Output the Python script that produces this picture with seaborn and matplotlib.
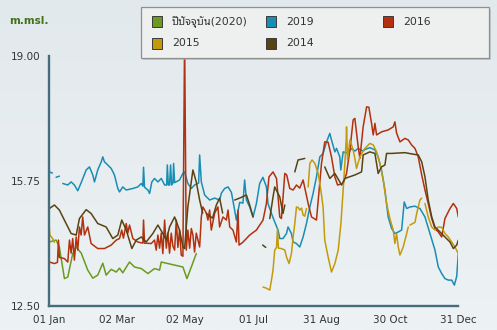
import numpy as np
import pandas as pd
import matplotlib
matplotlib.use("Agg")
import matplotlib.pyplot as plt
from matplotlib import font_manager
from matplotlib.patches import Rectangle
from matplotlib.colors import LinearSegmentedColormap
import seaborn as sns

nan = np.nan

# ---- data: (day of year, water level in m.msl.) ; nan marks a gap ----
series_names = ["ปีปัจจุบัน(2020)", "2019", "2016", "2015", "2014"]
series_colors = ["#6b9a1f", "#1a8db5", "#b3310f", "#c49a0a", "#5a4312"]

level_2020 = [
    (0.6, 14.17), (6.6, 14.22), (9.5, 14.04), (14, 13.22), (17, 13.26), (21.4, 13.87),
    (24.5, 14.04), (29, 13.88), (34.8, 13.44), (39.3, 13.23), (43.7, 13.31), (48.2, 13.62),
    (51.2, 13.31), (55.7, 13.46), (60.2, 13.39), (63.1, 13.49), (66, 13.37), (72, 13.65),
    (76.5, 13.52), (82.5, 13.48), (88.4, 13.35), (94.3, 13.48), (98.8, 13.44), (100.3, 13.65),
    (106.2, 13.61), (112.2, 13.57), (119.6, 13.52), (123.2, 13.22), (127.1, 13.52), (131.5, 13.87),
]

level_2019 = [
    (0.6, 15.99), (3.3, 15.96), (5, nan), (6.6, 15.85), (9.5, 15.88), (11, nan),
    (12.5, 15.69), (17, 15.65), (20, 15.73), (22.9, 15.65), (25.9, 15.50), (29.2, 15.73),
    (33.4, 16.04), (36.3, 16.12), (39.3, 15.91), (40.8, 15.73), (43.7, 16.04), (46.8, 16.25),
    (48.2, 16.38), (49.7, 16.25), (51.2, 16.21), (55.7, 16.08), (58.6, 15.91), (61.6, 15.56),
    (63.1, 15.47), (66, 15.60), (69.1, 15.52), (75, 15.56), (79.4, 15.60), (82.5, 15.69),
    (83.9, 15.62), (84.5, 16.11), (85.4, 15.59), (88.4, 15.52), (89.9, 15.43), (91.9, 15.73),
    (94.3, 15.82), (97.3, 15.73), (100.3, 15.82), (103.3, 15.65), (105.1, 15.65), (105.7, 16.17),
    (106.6, 15.65), (107.7, 15.65), (108.6, 16.17), (109.5, 15.65), (110.7, 15.70), (111.3, 16.21),
    (112.2, 15.71), (116.6, 15.78), (119.6, 15.95), (121.1, 15.99), (124, 15.69), (127.1, 15.56),
    (130, 15.65), (133.6, 15.70), (134.5, 16.43), (136, 15.73), (139, 15.39), (143.4, 15.26),
    (147.9, 15.31), (152.3, 15.26), (153.9, 15.44), (156.8, 15.56), (159.8, 15.60), (162.8, 15.46),
    (165.7, 15.00), (167.2, 14.74), (170.2, 15.20), (173.1, 15.18), (174.6, 15.78), (176.2, 15.26),
    (179.1, 15.08), (182.1, 14.82), (185.1, 15.17), (188, 15.69), (190.9, 15.85), (194, 15.60),
    (195.4, 15.17), (198.5, 14.91), (201.4, 14.69), (204.4, 14.48), (205.9, 14.26), (208.8, 14.26),
    (211.9, 14.39), (213.3, 14.56), (216.3, 14.39), (217.8, 14.17), (220.8, 14.13), (223.7, 14.04),
    (226.7, 14.30), (229.7, 14.65), (232.7, 15.08), (235.6, 15.43), (238.6, 15.86), (241.6, 16.38),
    (244.5, 16.47), (247.6, 16.77), (250.5, 16.99), (252, 16.82), (255, 16.51), (256.5, 16.60),
    (259.4, 16.38), (260.3, 16.04), (262.4, 16.51), (266.8, 16.47), (269.8, 16.60), (272.8, 16.53),
    (275.8, 16.60), (280.2, 16.53), (281.7, 16.57), (286.2, 16.62), (290.7, 16.56), (293.6, 16.38),
    (296.6, 16.04), (299.6, 15.52), (302.5, 14.82), (305.6, 14.52), (308.5, 14.39), (311.5, 14.43),
    (314.5, 14.48), (316.8, 15.21), (319, 15.04), (321.9, 15.08), (326.4, 15.10), (330.8, 15.04),
    (335.3, 14.82), (339.7, 14.39), (344.2, 13.96), (347.2, 13.52), (350.2, 13.35), (353.1, 13.22),
    (356.1, 13.18), (359.1, 13.18), (361.5, 13.05), (363.6, 13.28), (365, 13.87),
]

level_2016 = [
    (0.6, 13.65), (5.1, 13.61), (7.8, 13.64), (8.7, 14.22), (9.5, 13.77), (14, 13.74),
    (17, 13.65), (18.5, 14.22), (20, 13.88), (21.4, 14.26), (22.9, 13.70), (24.5, 14.30),
    (25.9, 13.96), (27.4, 14.56), (28.9, 14.35), (30.3, 14.82), (31.9, 14.35), (34.8, 14.56),
    (37.8, 14.13), (43.7, 14.00), (49.7, 14.00), (55.7, 14.09), (60.2, 14.22), (63.1, 14.26),
    (65.1, 14.48), (66.6, 14.27), (69.1, 14.65), (70.5, 14.40), (72, 14.61), (75, 14.26),
    (79.4, 14.17), (83.9, 14.14), (84.5, 14.74), (85.4, 14.14), (91.4, 14.13), (94.3, 14.22),
    (95.8, 13.96), (97.3, 14.35), (98.8, 14.01), (100.3, 14.40), (101.7, 13.87), (103.3, 14.74),
    (104.8, 14.01), (106.2, 14.40), (107.7, 13.88), (109.2, 14.40), (110.7, 14.06), (112.2, 13.96),
    (113.7, 14.74), (115.1, 14.03), (116.6, 14.48), (118.1, 13.83), (119.6, 13.80), (121.1, 19.50),
    (122.6, 13.96), (124, 14.48), (125.6, 14.01), (127.1, 14.52), (128.5, 14.35), (130, 13.91),
    (131.5, 14.40), (134.5, 14.04), (136, 14.82), (137.4, 15.08), (140.5, 14.92), (141.9, 14.74),
    (143.4, 15.00), (144.9, 14.48), (147.9, 14.92), (150.8, 15.08), (152.3, 14.56), (155.3, 14.82),
    (158.3, 14.74), (159.8, 15.00), (161.3, 14.56), (164.2, 14.48), (167.2, 14.17), (168.7, 15.00),
    (169.6, 14.09), (172.9, 14.16), (179.1, 14.35), (185.1, 14.48), (191, 14.74), (194, 15.17),
    (196.3, 15.86), (199.9, 15.99), (203, 15.82), (205.9, 14.82), (207.4, 14.78), (210.4, 15.95),
    (212.1, 15.91), (214.8, 15.56), (217.8, 15.52), (220.8, 15.65), (223.7, 15.57), (226.7, 15.78),
    (231.2, 15.17), (234.2, 14.82), (238.6, 14.74), (243.1, 16.21), (246, 16.77), (249, 16.76),
    (252, 16.38), (255, 15.86), (257.4, 15.65), (262.4, 15.69), (265.4, 15.95), (268.4, 16.56),
    (271.3, 17.34), (272.8, 17.38), (275.8, 16.64), (277.3, 16.34), (280.2, 17.16), (283.3, 17.68),
    (285.3, 17.67), (287.7, 17.25), (289.2, 16.95), (290.7, 17.25), (292.2, 16.95), (296.6, 17.03),
    (302.5, 17.08), (307, 17.16), (308.5, 17.29), (310, 17.00), (313, 16.77), (317.4, 16.86),
    (320.4, 16.82), (323.4, 16.69), (326.4, 16.60), (329.3, 16.38), (332.4, 15.91), (335.3, 15.52),
    (338.2, 15.17), (341.3, 14.78), (344.2, 14.52), (347.2, 14.43), (350.2, 14.30), (353.1, 14.78),
    (357.6, 15.04), (360.6, 15.17), (363.6, 15.04), (365, 14.82),
]

level_2015 = [
    (0, 14.74), (1, 14.35), (3.3, 14.27), (5.1, 14.16), (6, nan),
    (191, 13.00), (194, 12.97), (197, 12.92), (198.5, 13.18), (199.9, 13.44), (201.4, 13.96),
    (203, 14.03), (203.9, 14.52), (204.7, 14.01), (207.4, 14.00), (210.4, 13.96), (211.9, 13.78),
    (214.2, 13.61), (216.3, 13.87), (217.8, 14.30), (219.3, 14.65), (220.8, 15.08), (222.2, 15.07),
    (223.7, 15.00), (225.3, 15.05), (226.7, 14.87), (228.2, 14.84), (229.7, 15.04), (230.5, nan),
    (231.2, 15.60), (232.7, 16.21), (234.7, 16.30), (237.2, 16.21), (240.1, 15.95), (242.5, 15.52),
    (244.5, 15.08), (246, 14.22), (249, 13.78), (252, 13.39), (255, 13.61), (258, 13.96),
    (260.4, 14.65), (262.4, 15.52), (263.9, 16.21), (265.1, 16.82), (265.4, 17.16), (266.3, 16.30),
    (268.4, 16.82), (271.3, 16.56), (272.8, 16.34), (274.3, 16.08), (277.3, 16.38), (281.7, 16.60),
    (286.2, 16.73), (289.2, 16.69), (292.2, 16.51), (295.1, 16.21), (298.1, 15.78), (301.1, 15.17),
    (304, 14.78), (307, 14.48), (308.5, 14.13), (310, 14.39), (311.5, 14.04), (313, 13.83),
    (315.9, 14.04), (319, 14.39), (320.4, 14.56), (321.1, nan), (321.9, 14.61), (326.4, 14.68),
    (327.9, 14.91), (330.8, 15.26), (332.4, 15.31), (333.8, nan), (335.3, 15.17), (338.2, 14.82),
    (341.3, 14.56), (344.2, 14.48), (347.2, 14.56), (350.2, 14.55), (353.1, 14.39), (356.1, 14.30),
    (359.1, 14.17), (362, 14.04), (365, 13.87),
]

level_2014 = [
    (0.6, 15.04), (5.1, 15.13), (9.5, 15.00), (15.5, 14.65), (20, 14.39), (24.5, 14.35),
    (27.4, 14.78), (33.4, 15.01), (37.8, 14.91), (43.7, 14.65), (51.2, 14.56), (57.1, 14.26),
    (61.6, 14.35), (65.1, 14.74), (69.1, 14.48), (74.1, 14.00), (78, 14.22), (82.5, 14.30),
    (86.9, 14.17), (92.8, 14.39), (97.3, 14.61), (101.7, 14.39), (104.8, 14.22), (107.7, 14.56),
    (112.2, 14.82), (116.6, 14.48), (119.6, 14.04), (121.1, 14.00), (124, 15.08), (128.5, 16.04),
    (131.5, 15.73), (134.5, 15.26), (137.2, 14.92), (138.8, nan), (140.5, 14.91), (146, 14.79),
    (149.4, 15.13), (152.3, 15.31), (155, 14.92), (160, nan), (165.7, 15.26), (170.2, 15.31),
    (176.2, 15.39), (179.1, 15.13), (182.1, 14.82), (186, nan), (190.7, 14.09), (193.4, 14.03),
    (195, nan), (197, 14.78), (199.9, 15.34), (201.4, 15.60), (205.9, 15.34), (208.8, 14.91),
    (210.4, 15.13), (214, nan), (219.3, 15.99), (222.2, 16.30), (228.2, 16.34), (236, nan),
    (246, 16.12), (250.5, 15.82), (255, 15.95), (261, 15.65), (263.9, 15.82), (272.8, 15.91),
    (278.8, 15.99), (280.2, 16.43), (286.2, 16.51), (290.7, 16.47), (293.6, 15.95), (296.6, 16.12),
    (299.6, 16.17), (301.1, 16.47), (305.6, 16.47), (317.4, 16.49), (324.9, 16.45), (329.3, 16.43),
    (332.4, 16.25), (335.3, 15.86), (338.2, 15.26), (341.3, 14.82), (344.2, 14.56), (348.7, 14.43),
    (353.1, 14.30), (357.6, 14.17), (360.6, 14.00), (363.6, 14.09), (365, 14.22),
]

all_series = [level_2020, level_2019, level_2016, level_2015, level_2014]

x_tick_labels = ["01 Jan", "02 Mar", "02 May", "01 Jul", "31 Aug", "30 Oct", "31 Dec"]
y_ticks = [12.50, 15.75, 19.00]
unit_label = "m.msl."

# ---- long table; each unbroken run of a year is its own unit ----
rows = []
for name, pts in zip(series_names, all_series):
    seg = 0
    for day, lvl in pts:
        if np.isnan(lvl):
            seg += 1
            continue
        rows.append((name, f"{name}#{seg}", day, lvl))
df = pd.DataFrame(rows, columns=["series", "segment", "day", "level"])

# ---- fonts ----
sns.set_style("white")


def find_thai_family():
    names = sorted({f.name for f in font_manager.fontManager.ttflist if "Thai" in f.name})
    for pref in ("Noto Sans Thai Looped", "Noto Sans Thai", "Tlwg Typo", "Loma"):
        if pref in names:
            return pref
    if names:
        return names[0]
    try:
        from fontTools.ttLib import TTFont
        for f in font_manager.fontManager.ttflist:
            try:
                cmap = TTFont(f.fname, fontNumber=0, lazy=True).getBestCmap()
            except Exception:
                continue
            if cmap and 0x0E1B in cmap:
                return f.name
    except Exception:
        pass
    return None


thai = find_thai_family()
families = ["DejaVu Sans"] + ([thai] if thai else [])
plt.rcParams["font.family"] = families

W, H = 497, 330
fig = plt.figure(figsize=(W / 100, H / 100), dpi=100)

# soft vertical background gradient
bg = fig.add_axes([0, 0, 1, 1], zorder=-10)
grad = np.linspace(0, 1, 256).reshape(-1, 1)
bg.imshow(grad, aspect="auto", extent=[0, 1, 0, 1],
          cmap=LinearSegmentedColormap.from_list("bg", ["#e2e9ec", "#edf2f4"]))
bg.axis("off")

left, right = 48.7 / W, 458.3 / W
bottom, top = 1 - 306.3 / H, 1 - 56 / H
ax = fig.add_axes([left, bottom, right - left, top - bottom])
ax.patch.set_alpha(0)

palette = dict(zip(series_names, series_colors))
sns.lineplot(data=df, x="day", y="level", hue="series", units="segment",
             estimator=None, sort=False, hue_order=series_names, palette=palette,
             legend=False, linewidth=1.1, ax=ax)

axis_color = "#456d7b"
ax.set_xlim(0, 365)
ax.set_ylim(12.5, 19.0)
ax.set_xticks(np.linspace(0, 365, len(x_tick_labels)))
ax.set_xticklabels(x_tick_labels)
ax.set_yticks(y_ticks)
ax.set_yticklabels([f"{v:.2f}" for v in y_ticks])
ax.set_xlabel("")
ax.set_ylabel("")
for s in ("top", "right"):
    ax.spines[s].set_visible(False)
for s in ("left", "bottom"):
    ax.spines[s].set_color(axis_color)
    ax.spines[s].set_linewidth(1.7)
ax.tick_params(axis="both", length=4, width=1.6, color=axis_color,
               labelsize=7.5, labelcolor="#333333", direction="out")
ax.tick_params(axis="x", pad=2.5)
ax.tick_params(axis="y", pad=2)
ax.grid(False)

# ---- overlay in pixel units: unit label and legend box ----
ov = fig.add_axes([0, 0, 1, 1], zorder=10)
ov.set_xlim(0, W)
ov.set_ylim(H, 0)
ov.axis("off")

ov.text(9.3, 21.3, unit_label, fontsize=7.6, fontweight="bold", color="#42721a",
        va="center", ha="left")

bx, by, bw, bh = 140.7, 7.3, 348.3, 51.0
ov.add_patch(Rectangle((bx + 2, by + 2), bw, bh, facecolor="#a8adaf", alpha=0.55,
                       edgecolor="none"))
ov.add_patch(Rectangle((bx, by), bw, bh, facecolor="#eef0ef", edgecolor="#8e9090",
                       linewidth=0.9))

col_x = [157.0, 271.0, 388.0]
row_y = [21.7, 43.3]
sw = 10.5
for i, (name, color) in enumerate(zip(series_names, series_colors)):
    r, c = divmod(i, 3)
    cx, cy = col_x[c], row_y[r]
    ov.add_patch(Rectangle((cx - sw / 2, cy - sw / 2), sw, sw, facecolor=color,
                           edgecolor="#3a3a3a", linewidth=0.7))
    ov.text(cx + 14.7, cy, name, fontsize=7.8, color="#333333", va="center", ha="left",
            family=families)

fig.savefig("out.png", dpi=100)
